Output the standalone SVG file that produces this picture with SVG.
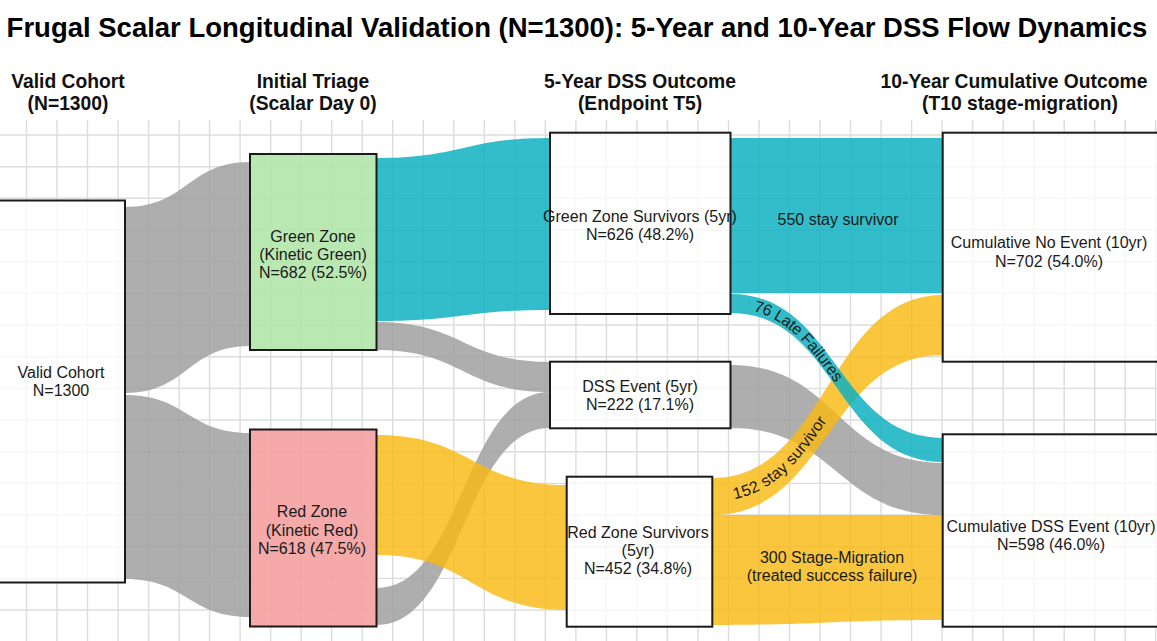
<svg xmlns="http://www.w3.org/2000/svg" width="1157" height="641" viewBox="0 0 1157 641">
<style>
text{font-family:"Liberation Sans",Arial,sans-serif;fill:#1a1a1a}
.title{font-size:27.5px;font-weight:bold;text-anchor:middle;fill:#000}
.hdr{font-size:19.3px;font-weight:bold;text-anchor:middle;fill:#111}
.lbl{font-size:16px;text-anchor:middle}
.grid line{stroke:#dcdcdc;stroke-width:1.4}
.box{stroke:#1a1a1a;stroke-width:2}
.white{fill:#ffffff;fill-opacity:0.78}
.gray{fill:#a0a0a0;fill-opacity:0.85}
.teal{fill:#0fb0c0;fill-opacity:0.85}
.yellow{fill:#f8ba12;fill-opacity:0.82}
</style>
<defs>
<path id="p76" d="M730.5 303.5 C836.75 303.5 836.75 450 943 450"/>
<path id="p152" d="M712.3 496.5 C827.6 496.5 827.6 325 943 325"/>
</defs>
<rect x="0" y="0" width="1157" height="641" fill="#ffffff"/>
<g class="grid">
<line x1="0" y1="135" x2="1157" y2="135"/><line x1="0" y1="166.7" x2="1157" y2="166.7"/><line x1="0" y1="198.3" x2="1157" y2="198.3"/><line x1="0" y1="230" x2="1157" y2="230"/><line x1="0" y1="261.7" x2="1157" y2="261.7"/><line x1="0" y1="293.4" x2="1157" y2="293.4"/><line x1="0" y1="325" x2="1157" y2="325"/><line x1="0" y1="356.7" x2="1157" y2="356.7"/><line x1="0" y1="388.4" x2="1157" y2="388.4"/><line x1="0" y1="420" x2="1157" y2="420"/><line x1="0" y1="451.7" x2="1157" y2="451.7"/><line x1="0" y1="483.4" x2="1157" y2="483.4"/><line x1="0" y1="515" x2="1157" y2="515"/><line x1="0" y1="546.7" x2="1157" y2="546.7"/><line x1="0" y1="578.4" x2="1157" y2="578.4"/><line x1="0" y1="610" x2="1157" y2="610"/>
<line x1="26.5" y1="120" x2="26.5" y2="641"/><line x1="57" y1="120" x2="57" y2="641"/><line x1="87.5" y1="120" x2="87.5" y2="641"/><line x1="118.1" y1="120" x2="118.1" y2="641"/><line x1="148.6" y1="120" x2="148.6" y2="641"/><line x1="179.1" y1="120" x2="179.1" y2="641"/><line x1="209.6" y1="120" x2="209.6" y2="641"/><line x1="240.1" y1="120" x2="240.1" y2="641"/><line x1="270.7" y1="120" x2="270.7" y2="641"/><line x1="301.2" y1="120" x2="301.2" y2="641"/><line x1="331.7" y1="120" x2="331.7" y2="641"/><line x1="362.2" y1="120" x2="362.2" y2="641"/><line x1="392.7" y1="120" x2="392.7" y2="641"/><line x1="423.3" y1="120" x2="423.3" y2="641"/><line x1="453.8" y1="120" x2="453.8" y2="641"/><line x1="484.3" y1="120" x2="484.3" y2="641"/><line x1="514.8" y1="120" x2="514.8" y2="641"/><line x1="545.3" y1="120" x2="545.3" y2="641"/><line x1="575.9" y1="120" x2="575.9" y2="641"/><line x1="606.4" y1="120" x2="606.4" y2="641"/><line x1="636.9" y1="120" x2="636.9" y2="641"/><line x1="667.4" y1="120" x2="667.4" y2="641"/><line x1="697.9" y1="120" x2="697.9" y2="641"/><line x1="728.5" y1="120" x2="728.5" y2="641"/><line x1="759" y1="120" x2="759" y2="641"/><line x1="789.5" y1="120" x2="789.5" y2="641"/><line x1="820" y1="120" x2="820" y2="641"/><line x1="850.5" y1="120" x2="850.5" y2="641"/><line x1="881.1" y1="120" x2="881.1" y2="641"/><line x1="911.6" y1="120" x2="911.6" y2="641"/><line x1="942.1" y1="120" x2="942.1" y2="641"/><line x1="972.6" y1="120" x2="972.6" y2="641"/><line x1="1003.1" y1="120" x2="1003.1" y2="641"/><line x1="1033.7" y1="120" x2="1033.7" y2="641"/><line x1="1064.2" y1="120" x2="1064.2" y2="641"/><line x1="1094.7" y1="120" x2="1094.7" y2="641"/><line x1="1125.2" y1="120" x2="1125.2" y2="641"/><line x1="1155.7" y1="120" x2="1155.7" y2="641"/>
</g>
<text class="title" x="577" y="37">Frugal Scalar Longitudinal Validation (N=1300): 5-Year and 10-Year DSS Flow Dynamics</text>
<g id="headers">
<text class="hdr" x="68" y="88">Valid Cohort</text><text class="hdr" x="68" y="110">(N=1300)</text>
<text class="hdr" x="313" y="88">Initial Triage</text><text class="hdr" x="313" y="110">(Scalar Day 0)</text>
<text class="hdr" x="640" y="88">5-Year DSS Outcome</text><text class="hdr" x="640" y="110">(Endpoint T5)</text>
<text class="hdr" x="1014" y="88">10-Year Cumulative Outcome</text><text class="hdr" x="1020" y="110">(T10 stage-migration)</text>
</g>
<g id="connectors">
<path class="gray" d="M125 207 C187.5 207 187.5 162 250 162 L250 346 C187.5 346 187.5 393 125 393Z"/>
<path class="gray" d="M125 395 C187.5 395 187.5 433 250 433 L250 617 C187.5 617 187.5 579 125 579Z"/>
<path class="teal" d="M376.5 158 C463 158 463 138 550 138 L550 310 C463 310 463 321 376.5 321Z"/>
<path class="gray" d="M376.5 322 C463 322 463 362 550 362 L550 392 C463 392 463 350 376.5 350Z"/>
<path class="gray" d="M376.5 588 C463 588 463 392 550 392 L550 428 C463 428 463 625 376.5 625Z"/>
<path class="yellow" d="M376.5 435 C471.6 435 471.6 485 566.7 485 L566.7 610 C471.6 610 471.6 555 376.5 555Z"/>
<path class="teal" d="M730.5 138 L943 138 L943 293 L730.5 293Z"/>
<path class="gray" d="M730.5 365 C836.75 365 836.75 463 943 463 L943 515 C836.75 515 836.75 428 730.5 428Z"/>
<path class="yellow" d="M712.3 478 C827.6 478 827.6 295 943 295 L943 355 C827.6 355 827.6 515 712.3 515Z"/>
<path class="teal" d="M730.5 294 C836.75 294 836.75 438 943 438 L943 462 C836.75 462 836.75 313 730.5 313Z"/>
<path class="yellow" d="M712.3 515 C827.6 515 827.6 515 943 515 L943 620 C827.6 620 827.6 625 712.3 625Z"/>
<text class="lbl" x="838" y="225">550 stay survivor</text>
<text class="lbl" style="text-anchor:start" dy="5"><textPath href="#p76" startOffset="9%">76 Late Failures</textPath></text>
<text class="lbl" style="text-anchor:start" dy="5"><textPath href="#p152" startOffset="7%">152 stay survivor</textPath></text>
<text class="lbl" x="832" y="563">300 Stage-Migration</text>
<text class="lbl" x="832" y="581">(treated success failure)</text>
</g>
<g id="valid-cohort">
<rect class="box white" x="-3" y="200.5" width="128" height="382"/>
<text class="lbl" x="61" y="378">Valid Cohort</text><text class="lbl" x="61" y="396">N=1300</text>
</g>
<g id="green-zone">
<rect class="box" x="250" y="154" width="126.5" height="196" fill="#b2e6ab" fill-opacity="0.9"/>
<text class="lbl" x="313" y="242">Green Zone</text><text class="lbl" x="313" y="260">(Kinetic Green)</text><text class="lbl" x="313" y="278">N=682 (52.5%)</text>
</g>
<g id="red-zone">
<rect class="box" x="250" y="429.5" width="126.5" height="197" fill="#f4a0a0" fill-opacity="0.9"/>
<text class="lbl" x="312" y="517">Red Zone</text><text class="lbl" x="312" y="536">(Kinetic Red)</text><text class="lbl" x="312" y="554">N=618 (47.5%)</text>
</g>
<g id="green-survivors">
<rect class="box white" x="550" y="132.7" width="180.5" height="181.3"/>
<text class="lbl" x="640" y="222">Green Zone Survivors (5yr)</text><text class="lbl" x="640" y="240">N=626 (48.2%)</text>
</g>
<g id="dss-event">
<rect class="box white" x="550" y="361.7" width="180.5" height="66.6"/>
<text class="lbl" x="640" y="392">DSS Event (5yr)</text><text class="lbl" x="640" y="410">N=222 (17.1%)</text>
</g>
<g id="red-survivors">
<rect class="box white" x="566.7" y="476.7" width="145.6" height="150"/>
<text class="lbl" x="638" y="538">Red Zone Survivors</text><text class="lbl" x="638" y="556">(5yr)</text><text class="lbl" x="638" y="574">N=452 (34.8%)</text>
</g>
<g id="cum-no-event">
<rect class="box white" x="942.7" y="132.7" width="230" height="229"/>
<text class="lbl" x="1049" y="248">Cumulative No Event (10yr)</text><text class="lbl" x="1049" y="267">N=702 (54.0%)</text>
</g>
<g id="cum-dss-event">
<rect class="box white" x="942.7" y="434.3" width="230" height="192.4"/>
<text class="lbl" x="1051" y="532">Cumulative DSS Event (10yr)</text><text class="lbl" x="1051" y="550">N=598 (46.0%)</text>
</g>
</svg>
